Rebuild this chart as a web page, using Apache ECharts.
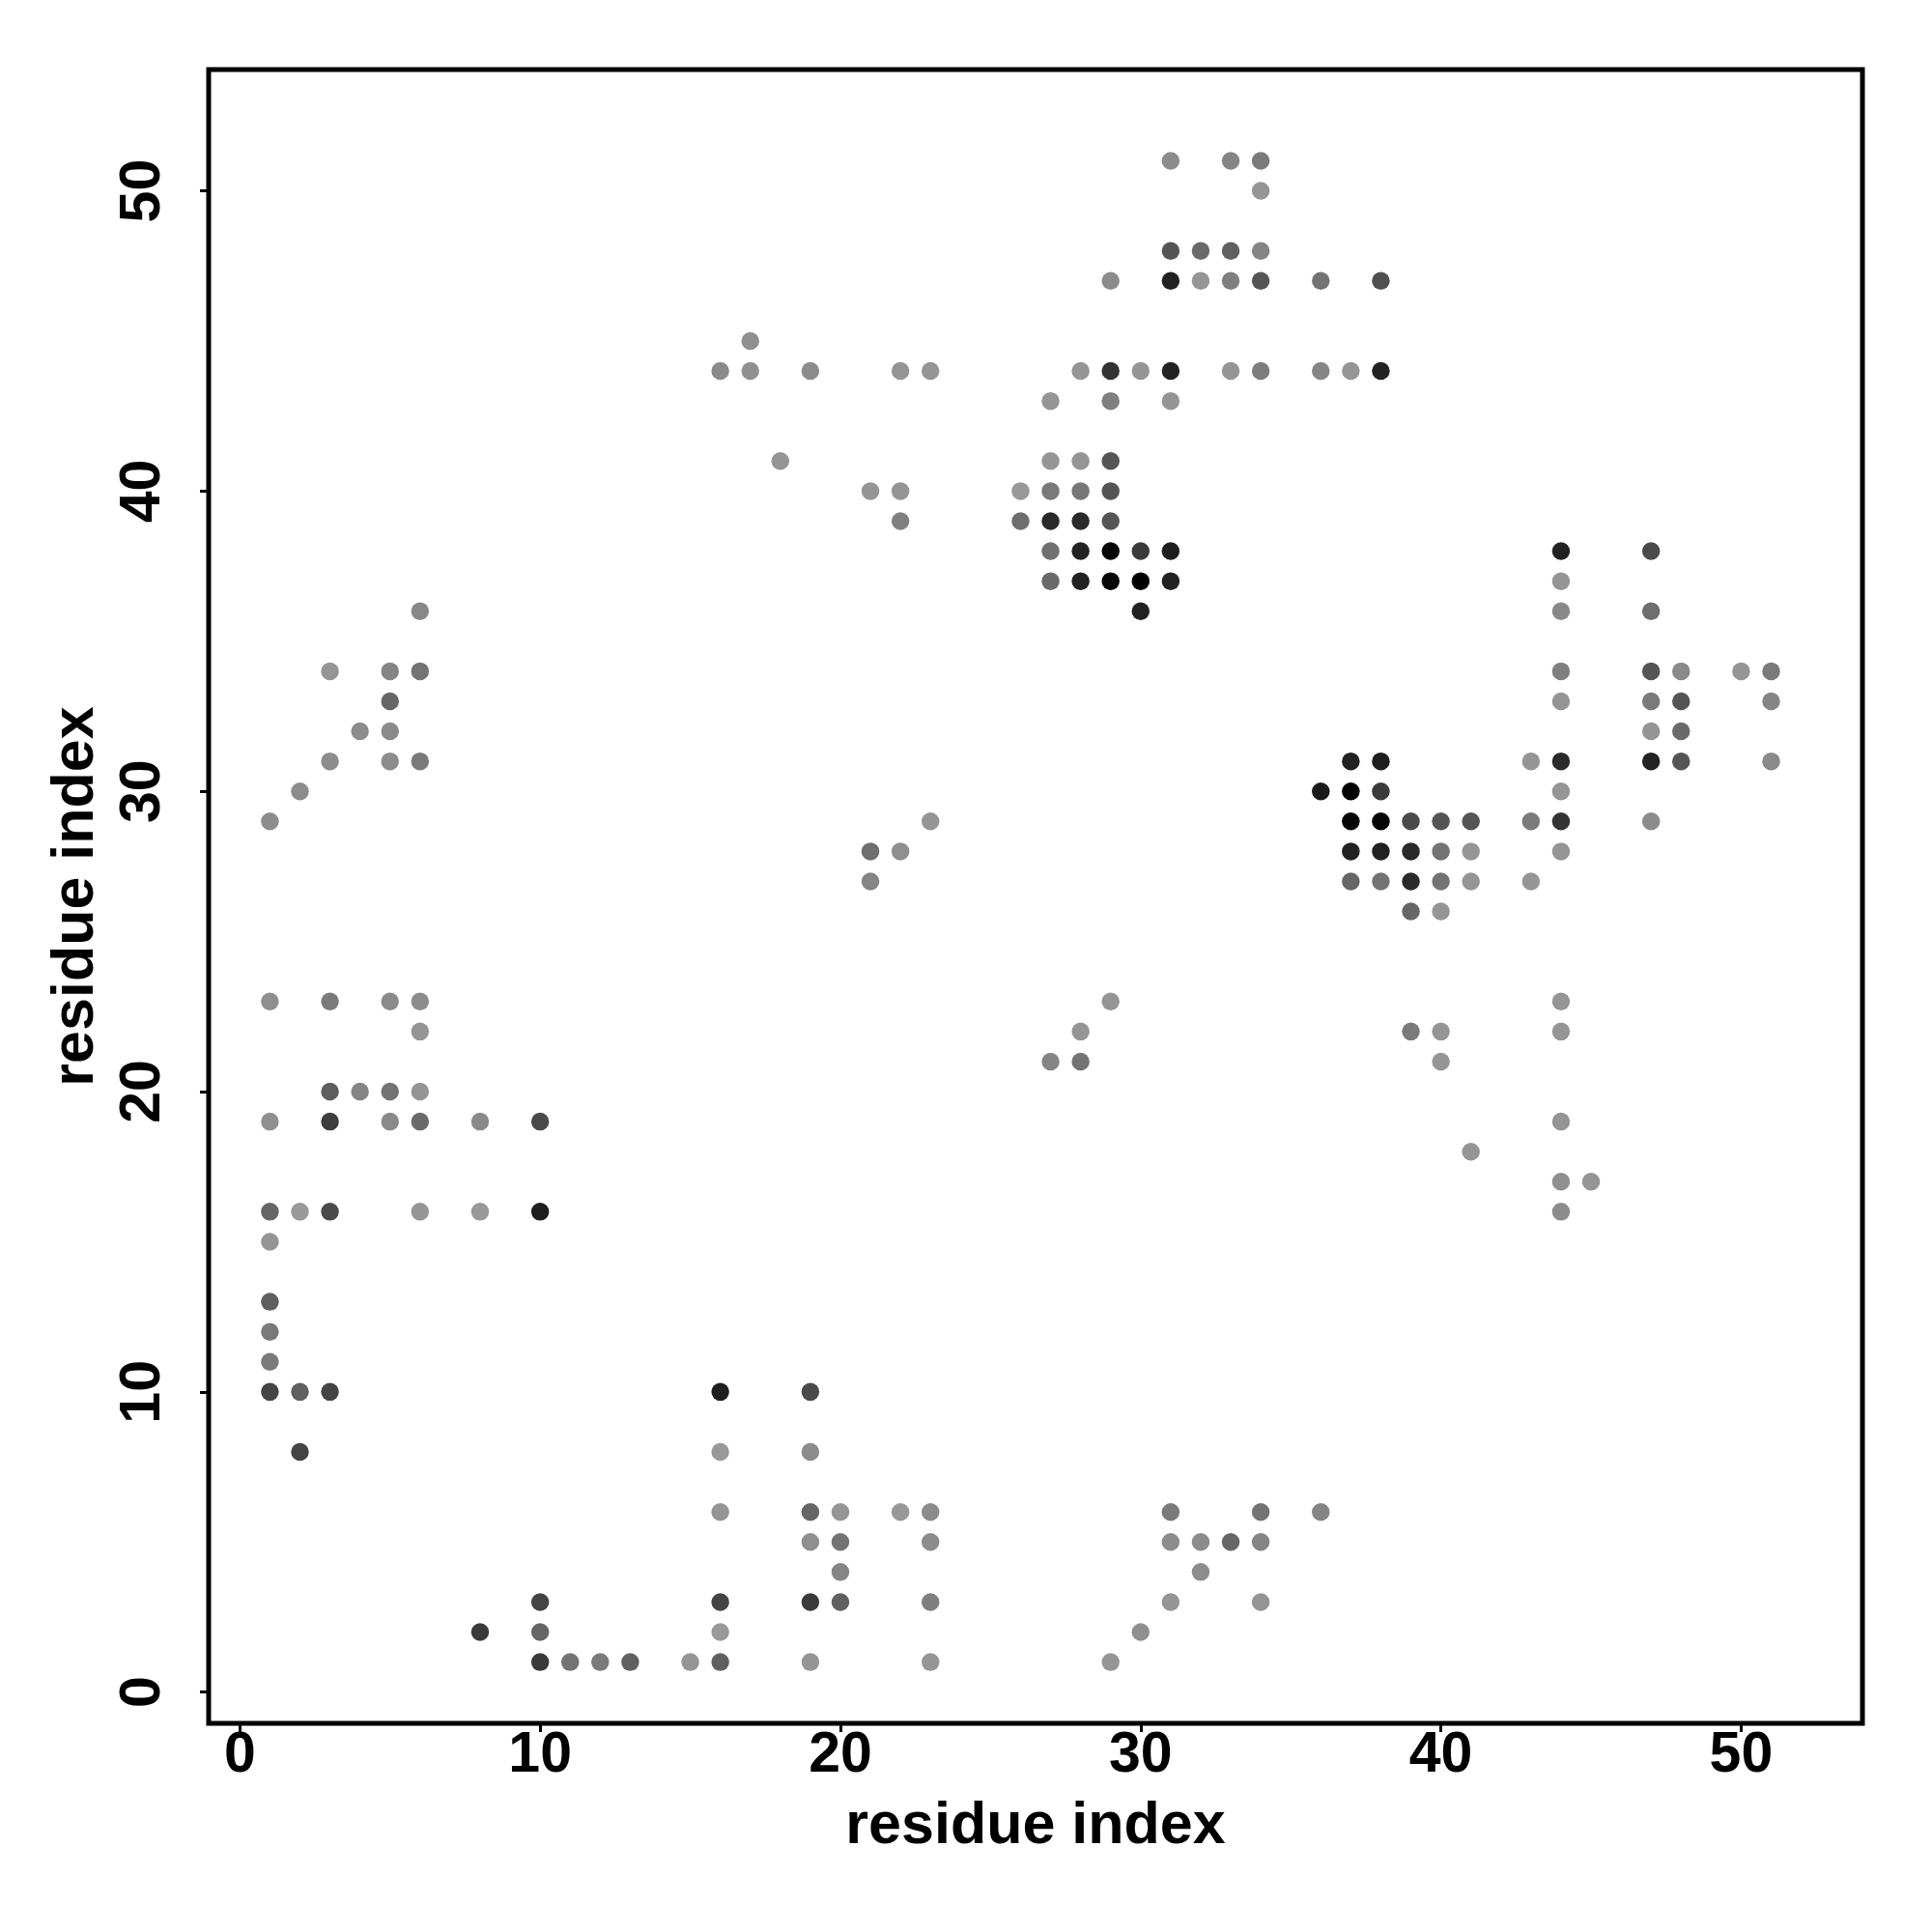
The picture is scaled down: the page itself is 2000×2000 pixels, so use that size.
<!DOCTYPE html>
<html><head><meta charset="utf-8">
<script src="https://cdn.jsdelivr.net/npm/echarts@6/dist/echarts.min.js"></script>
<style>html,body{margin:0;padding:0;background:#fff}#c{width:2000px;height:2000px}</style>
</head><body><div id="c"></div>
<script>
// residue i (x), residue j (y), grey level of the contact mark (0 = black, 255 = white)
const contactX = [
  31,33,34,
  34,
  31,32,33,34,
  29,31,32,33,34,36,38,
  17,
  16,17,19,22,23,28,29,30,31,33,34,36,37,38,
  27,29,31,
  18,27,28,29,
  21,22,26,27,28,29,
  22,26,27,28,29,
  27,28,29,30,31,44,47,
  27,28,29,30,31,44,
  6,30,44,47,
  3,5,6,44,47,48,50,51,
  5,44,47,48,51,
  4,5,47,48,
  3,5,6,37,38,43,44,47,48,51,
  2,36,37,38,44,
  1,23,37,38,39,40,41,43,44,47,
  21,22,37,38,39,40,41,44,
  21,37,38,39,40,41,43,
  39,40,
  1,3,5,6,29,44,
  6,28,39,40,44,
  27,28,40,
  3,4,5,6,
  1,3,5,6,8,10,44,
  41,
  44,45,
  1,2,3,6,8,10,44,
  1,
  1,
  1,
  1,
  1,2,3,16,19,
  2,16,19,
  16,19,20,22,23,31,34,36,
  19,20,23,31,32,33,34,
  20,32,
  10,16,19,20,23,31,34,
  8,10,16,30,
  10,11,12,13,15,16,19,23,29
];
const contactY = [
  51,51,51,
  50,
  48,48,48,48,
  47,47,47,47,47,47,47,
  45,
  44,44,44,44,44,44,44,44,44,44,44,44,44,44,
  43,43,43,
  41,41,41,41,
  40,40,40,40,40,40,
  39,39,39,39,39,
  38,38,38,38,38,38,38,
  37,37,37,37,37,37,
  36,36,36,36,
  34,34,34,34,34,34,34,34,
  33,33,33,33,33,
  32,32,32,32,
  31,31,31,31,31,31,31,31,31,31,
  30,30,30,30,30,
  29,29,29,29,29,29,29,29,29,29,
  28,28,28,28,28,28,28,28,
  27,27,27,27,27,27,27,
  26,26,
  23,23,23,23,23,23,
  22,22,22,22,22,
  21,21,21,
  20,20,20,20,
  19,19,19,19,19,19,19,
  18,
  17,17,
  16,16,16,16,16,16,16,
  15,
  13,
  12,
  11,
  10,10,10,10,10,
  8,8,8,
  6,6,6,6,6,6,6,6,
  5,5,5,5,5,5,5,
  4,4,
  3,3,3,3,3,3,3,
  2,2,2,2,
  1,1,1,1,1,1,1,1,1
];
const contactGray = [
  140,133,122,
  149,
  85,106,96,133,
  140,34,149,127,85,115,80,
  144,
  138,144,140,149,149,149,51,149,34,149,125,133,149,34,
  149,127,149,
  149,149,149,85,
  149,149,153,122,119,85,
  128,110,42,42,85,
  112,34,5,58,30,34,74,
  106,34,5,0,34,149,
  136,34,136,110,
  149,133,115,127,85,138,149,122,
  102,149,122,85,133,
  140,138,149,106,
  140,140,122,34,30,149,42,34,85,138,
  140,26,0,58,149,
  140,149,5,5,74,85,85,122,51,140,
  110,143,34,34,42,115,149,149,
  133,102,115,42,115,149,149,
  102,149,
  143,122,138,140,149,149,
  149,149,122,149,149,
  133,115,149,
  94,133,115,149,
  143,62,138,106,138,74,149,
  149,
  143,149,
  102,153,74,149,153,30,140,
  149,
  94,
  122,
  122,
  68,96,68,30,74,
  68,153,140,
  149,102,149,153,140,122,115,133,
  143,115,140,140,140,102,133,
  133,140,
  68,68,58,96,127,149,149,
  58,102,153,143,
  58,115,122,96,149,96,149,149,149
];
const tickValues = [0, 10, 20, 30, 40, 50];
const xTitle = 'residue index';
const yTitle = 'residue index';
const axisMin = -1.04, axisMax = 54.04;

const points = contactX.map((x, i) => [x, contactY[i], contactGray[i]]);
const font = 'Liberation Sans, Arial, Helvetica, sans-serif';

const chart = echarts.init(document.getElementById('c'), null, {renderer: 'canvas'});
chart.setOption({
  animation: false,
  backgroundColor: '#ffffff',
  grid: {left: 216, top: 72, width: 1712, height: 1712, show: true,
         borderColor: '#000', borderWidth: 5, backgroundColor: 'transparent', containLabel: false},
  xAxis: {
    type: 'value', min: axisMin, max: axisMax, position: 'bottom',
    name: xTitle, nameLocation: 'middle', nameGap: 77,
    nameTextStyle: {fontFamily: font, fontWeight: 'bold', fontSize: 61, color: '#000'},
    axisLine: {show: false, onZero: false},
    splitLine: {show: false},
    axisTick: {show: true, customValues: tickValues, length: 9, lineStyle: {color: '#000', width: 3}},
    axisLabel: {show: true, customValues: tickValues, margin: 4,
      fontFamily: font, fontWeight: 'bold', fontSize: 59, color: '#000'}
  },
  yAxis: {
    type: 'value', min: axisMin, max: axisMax, position: 'left',
    name: yTitle, nameLocation: 'middle', nameGap: 106,
    nameTextStyle: {fontFamily: font, fontWeight: 'bold', fontSize: 61, color: '#000'},
    axisLine: {show: false, onZero: false},
    splitLine: {show: false},
    axisTick: {show: true, customValues: tickValues, length: 9, lineStyle: {color: '#000', width: 3}},
    axisLabel: {show: true, customValues: tickValues, margin: 38, rotate: 90,
      fontFamily: font, fontWeight: 'bold', fontSize: 59, color: '#000'}
  },
  series: [{
    type: 'scatter',
    data: points,
    symbol: 'circle',
    symbolSize: 18.5,
    itemStyle: {
      color: function (p) { const g = p.data[2]; return 'rgb(' + g + ',' + g + ',' + g + ')'; },
      opacity: 1
    }
  }]
});
</script>
</body></html>
